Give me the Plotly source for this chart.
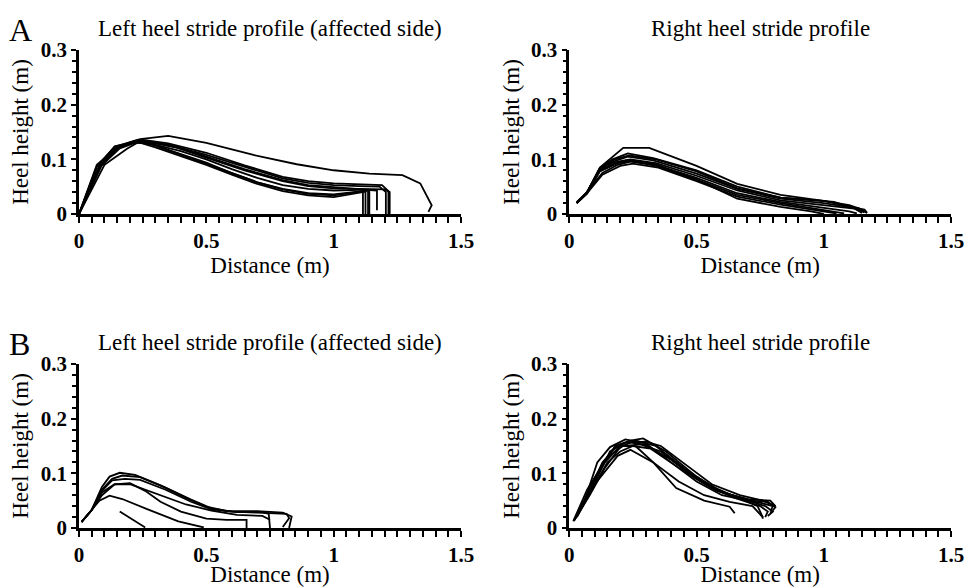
import plotly.graph_objects as go

# ---------------- data ----------------
# Panel A, left heel (affected side): one list per stride
A_LEFT_X = [
    [0, 0.07, 0.14, 0.24, 0.35, 0.5, 0.685, 0.855, 1.0, 1.14, 1.27, 1.34, 1.385, 1.372],
    [0, 0.07, 0.13, 0.2, 0.26, 0.35, 0.5, 0.65, 0.8, 0.9, 1.0, 1.1, 1.19, 1.215, 1.215],
    [0, 0.08, 0.15, 0.22, 0.27, 0.36, 0.5, 0.65, 0.8, 0.9, 1.0, 1.1, 1.18, 1.205, 1.205],
    [0, 0.09, 0.16, 0.23, 0.3, 0.4, 0.5, 0.65, 0.8, 0.9, 1.0, 1.1, 1.17, 1.17],
    [0, 0.08, 0.15, 0.2, 0.28, 0.38, 0.5, 0.65, 0.8, 0.9, 1.0, 1.1, 1.2, 1.22, 1.22],
    [0, 0.07, 0.15, 0.22, 0.3, 0.4, 0.5, 0.6, 0.7, 0.8, 0.9, 1.0, 1.08, 1.135, 1.135],
    [0, 0.08, 0.16, 0.23, 0.3, 0.4, 0.5, 0.6, 0.7, 0.8, 0.9, 1.0, 1.08, 1.125, 1.125],
    [0, 0.1, 0.19, 0.25, 0.32, 0.42, 0.5, 0.6, 0.7, 0.8, 0.9, 1.0, 1.08, 1.115, 1.115],
    [0, 0.08, 0.14, 0.21, 0.29, 0.4, 0.5, 0.6, 0.7, 0.8, 0.9, 1.0, 1.1, 1.14, 1.14],
]
A_LEFT_Y = [
    [0, 0.087, 0.123, 0.137, 0.143, 0.130, 0.108, 0.091, 0.080, 0.074, 0.071, 0.056, 0.016, 0.004],
    [0, 0.086, 0.118, 0.131, 0.135, 0.129, 0.112, 0.089, 0.068, 0.06, 0.056, 0.054, 0.053, 0.042, 0],
    [0, 0.085, 0.122, 0.132, 0.133, 0.126, 0.108, 0.086, 0.065, 0.057, 0.053, 0.051, 0.05, 0.04, 0],
    [0, 0.09, 0.124, 0.135, 0.13, 0.12, 0.105, 0.082, 0.062, 0.053, 0.049, 0.046, 0.043, 0.007],
    [0, 0.088, 0.12, 0.13, 0.131, 0.122, 0.103, 0.08, 0.06, 0.051, 0.047, 0.046, 0.045, 0.04, 0],
    [0, 0.09, 0.122, 0.134, 0.125, 0.11, 0.094, 0.075, 0.058, 0.045, 0.037, 0.034, 0.04, 0.043, 0],
    [0, 0.085, 0.12, 0.132, 0.122, 0.106, 0.09, 0.072, 0.055, 0.042, 0.034, 0.031, 0.037, 0.041, 0],
    [0, 0.09, 0.12, 0.136, 0.122, 0.105, 0.092, 0.074, 0.058, 0.046, 0.038, 0.036, 0.04, 0.042, 0],
    [0, 0.088, 0.124, 0.131, 0.128, 0.115, 0.1, 0.082, 0.066, 0.053, 0.046, 0.043, 0.044, 0.044, 0],
]

# Panel A, right heel
A_RIGHT_X = [
    [0.029, 0.068, 0.12, 0.212, 0.314, 0.5, 0.66, 0.83, 1.0, 1.1, 1.16],
    [0.029, 0.068, 0.12, 0.17, 0.23, 0.33, 0.5, 0.66, 0.83, 1.0, 1.04, 1.1, 1.16, 1.17],
    [0.029, 0.068, 0.12, 0.18, 0.23, 0.33, 0.5, 0.66, 0.83, 1.0, 1.14, 1.17],
    [0.029, 0.068, 0.12, 0.18, 0.24, 0.34, 0.5, 0.66, 0.83, 1.0, 1.12, 1.15],
    [0.03, 0.07, 0.13, 0.19, 0.24, 0.34, 0.5, 0.66, 0.83, 1.0, 1.1, 1.13],
    [0.03, 0.07, 0.13, 0.2, 0.25, 0.35, 0.5, 0.66, 0.83, 0.95, 1.02, 1.05],
    [0.03, 0.07, 0.12, 0.19, 0.23, 0.33, 0.5, 0.66, 0.83, 0.95, 1.0],
    [0.029, 0.068, 0.12, 0.18, 0.235, 0.34, 0.5, 0.66, 0.83, 1.0, 1.1, 1.14, 1.16],
    [0.029, 0.068, 0.12, 0.18, 0.24, 0.34, 0.5, 0.66, 0.83, 0.97, 1.03, 1.08],
]
A_RIGHT_Y = [
    [0.02, 0.038, 0.085, 0.121, 0.121, 0.088, 0.055, 0.035, 0.024, 0.014, 0.003],
    [0.02, 0.038, 0.084, 0.1, 0.111, 0.102, 0.08, 0.05, 0.03, 0.024, 0.022, 0.013, 0.008, 0.002],
    [0.02, 0.038, 0.082, 0.097, 0.105, 0.098, 0.074, 0.046, 0.028, 0.02, 0.01, 0.002],
    [0.021, 0.039, 0.08, 0.095, 0.1, 0.093, 0.07, 0.043, 0.025, 0.016, 0.01, 0.002],
    [0.022, 0.04, 0.075, 0.09, 0.096, 0.09, 0.066, 0.038, 0.022, 0.012, 0.005, 0.001],
    [0.021, 0.038, 0.072, 0.088, 0.092, 0.085, 0.06, 0.032, 0.017, 0.008, 0.003, 0.001],
    [0.02, 0.037, 0.078, 0.093, 0.099, 0.092, 0.063, 0.028, 0.013, 0.005, 0.0],
    [0.02, 0.038, 0.083, 0.1, 0.107, 0.1, 0.078, 0.047, 0.03, 0.024, 0.016, 0.01, 0.004],
    [0.021, 0.039, 0.079, 0.092, 0.097, 0.088, 0.063, 0.035, 0.02, 0.01, 0.005, 0.001],
]

# Panel B, left heel (affected side)
B_LEFT_X = [
    [0.01, 0.05, 0.09, 0.12, 0.16, 0.22, 0.32, 0.42, 0.5, 0.58, 0.7, 0.8, 0.835, 0.825],
    [0.01, 0.05, 0.09, 0.13, 0.17, 0.24, 0.34, 0.44, 0.52, 0.6, 0.7, 0.78, 0.815, 0.825, 0.8],
    [0.01, 0.05, 0.09, 0.13, 0.18, 0.24, 0.34, 0.44, 0.52, 0.62, 0.72, 0.745, 0.75],
    [0.01, 0.05, 0.09, 0.14, 0.2, 0.26, 0.32, 0.42, 0.52, 0.62, 0.72, 0.75],
    [0.01, 0.05, 0.09, 0.14, 0.2, 0.26, 0.32, 0.4, 0.5, 0.58, 0.658, 0.658],
    [0.01, 0.05, 0.08, 0.12, 0.17, 0.27, 0.39, 0.49],
    [0.16, 0.26],
]
B_LEFT_Y = [
    [0.011, 0.033, 0.075, 0.094, 0.101, 0.097, 0.078, 0.055, 0.039, 0.031, 0.031, 0.028, 0.021, 0.0],
    [0.011, 0.033, 0.07, 0.09, 0.096, 0.093, 0.074, 0.052, 0.036, 0.03, 0.028, 0.027, 0.026, 0.018, 0.002],
    [0.011, 0.033, 0.068, 0.087, 0.09, 0.088, 0.07, 0.048, 0.034, 0.029, 0.029, 0.026, 0.0],
    [0.011, 0.033, 0.065, 0.08, 0.08, 0.07, 0.06, 0.043, 0.032, 0.024, 0.022, 0.015],
    [0.011, 0.033, 0.06, 0.08, 0.082, 0.068, 0.048, 0.03, 0.017, 0.015, 0.015, 0.0],
    [0.011, 0.033, 0.05, 0.059, 0.053, 0.034, 0.012, 0.001],
    [0.030, 0.001],
]

# Panel B, right heel
B_RIGHT_X = [
    [0.016, 0.06, 0.11, 0.16, 0.22, 0.3, 0.4, 0.5, 0.6, 0.7, 0.78, 0.81, 0.79],
    [0.02, 0.07, 0.13, 0.19, 0.24, 0.29, 0.38, 0.5, 0.6, 0.7, 0.77, 0.8, 0.78],
    [0.025, 0.08, 0.14, 0.2, 0.26, 0.34, 0.45, 0.55, 0.65, 0.74, 0.76],
    [0.03, 0.09, 0.15, 0.2, 0.25, 0.32, 0.43, 0.55, 0.65, 0.75, 0.78, 0.77],
    [0.016, 0.07, 0.15, 0.21, 0.28, 0.36, 0.47, 0.58, 0.68, 0.76, 0.8, 0.79],
    [0.03, 0.1, 0.19, 0.24, 0.33, 0.43, 0.53, 0.63, 0.72, 0.76, 0.76],
    [0.02, 0.08, 0.14, 0.2, 0.26, 0.33, 0.42, 0.53, 0.63, 0.65],
    [0.025, 0.08, 0.16, 0.22, 0.3, 0.36, 0.46, 0.56, 0.67, 0.76, 0.81],
    [0.02, 0.07, 0.13, 0.18, 0.23, 0.3, 0.4, 0.5, 0.6, 0.7, 0.79, 0.81],
]
B_RIGHT_Y = [
    [0.012, 0.05, 0.12, 0.148, 0.162, 0.155, 0.12, 0.085, 0.06, 0.05, 0.048, 0.038, 0.027],
    [0.015, 0.06, 0.12, 0.152, 0.16, 0.164, 0.14, 0.094, 0.066, 0.05, 0.04, 0.03, 0.022],
    [0.018, 0.06, 0.11, 0.148, 0.16, 0.15, 0.11, 0.078, 0.058, 0.04, 0.02],
    [0.022, 0.07, 0.12, 0.14, 0.15, 0.145, 0.11, 0.075, 0.055, 0.04, 0.03, 0.02],
    [0.013, 0.07, 0.13, 0.15, 0.153, 0.14, 0.1, 0.068, 0.055, 0.045, 0.04, 0.03],
    [0.02, 0.08, 0.132, 0.143, 0.12, 0.085, 0.06, 0.048, 0.04, 0.02, 0.017],
    [0.015, 0.07, 0.12, 0.15, 0.15, 0.12, 0.073, 0.05, 0.039, 0.027],
    [0.02, 0.065, 0.14, 0.156, 0.158, 0.15, 0.115, 0.08, 0.06, 0.05, 0.04],
    [0.014, 0.06, 0.115, 0.15, 0.157, 0.152, 0.125, 0.09, 0.065, 0.053, 0.05, 0.04],
]

PANEL_TITLES = ["Left heel stride profile (affected side)", "Right heel stride profile"]
PANEL_LETTERS = ["A", "B"]
X_RANGE = [0, 1.5]
Y_RANGE = [0, 0.3]
X_MAJOR, X_MINOR = 0.5, 0.05
Y_MAJOR, Y_MINOR = 0.1, 0.02
X_TITLE = "Distance (m)"
Y_TITLE = "Heel height (m)"

# ---------------- figure ----------------
W, H = 966, 587
FONT = "Liberation Serif, Times New Roman, serif"


def px_x(p):
    return p / W


def px_y(p):
    return 1 - p / H


# plot-area pixel boxes: (left, right, top, bottom)
boxes = [
    (79, 461, 50, 214),
    (569.3, 951, 50, 214),
    (79, 461, 364, 528),
    (569.3, 951, 364, 528),
]
panels = [(A_LEFT_X, A_LEFT_Y), (A_RIGHT_X, A_RIGHT_Y), (B_LEFT_X, B_LEFT_Y), (B_RIGHT_X, B_RIGHT_Y)]

fig = go.Figure()
layout = dict(
    width=W, height=H, autosize=False,
    margin=dict(l=0, r=0, t=0, b=0, pad=0, autoexpand=False),
    paper_bgcolor="white", plot_bgcolor="white",
    showlegend=False,
    font=dict(family=FONT, color="black"),
    annotations=[],
)

for i, ((xs, ys), (l, r, t, b)) in enumerate(zip(panels, boxes)):
    n = i + 1
    xa = "x" if n == 1 else f"x{n}"
    ya = "y" if n == 1 else f"y{n}"
    for cx, cy in zip(xs, ys):
        fig.add_trace(go.Scatter(x=cx, y=cy, mode="lines", xaxis=xa, yaxis=ya,
                                 line=dict(color="black", width=1.8), hoverinfo="skip"))
    xkey = "xaxis" if n == 1 else f"xaxis{n}"
    ykey = "yaxis" if n == 1 else f"yaxis{n}"
    layout[xkey] = dict(
        domain=[px_x(l), px_x(r)], anchor=ya, range=X_RANGE, automargin=False,
        tickmode="linear", tick0=0, dtick=X_MAJOR,
        showline=True, linecolor="black", linewidth=2.5,
        ticks="outside", ticklen=6, tickwidth=2, tickcolor="black",
        minor=dict(tickmode="linear", tick0=0, dtick=X_MINOR, ticks="outside", ticklen=6,
                   tickwidth=2, tickcolor="black", showgrid=False),
        showgrid=False, zeroline=False,
        tickfont=dict(family=FONT, size=21, weight="bold"),
        title=dict(text=X_TITLE, font=dict(family=FONT, size=23), standoff=0),
    )
    layout[ykey] = dict(
        domain=[px_y(b), px_y(t)], anchor=xa, range=Y_RANGE, automargin=False,
        tickmode="linear", tick0=0, dtick=Y_MAJOR,
        showline=True, linecolor="black", linewidth=2.5,
        ticks="outside", ticklen=5, tickwidth=2, tickcolor="black",
        minor=dict(tickmode="linear", tick0=0, dtick=Y_MINOR, ticks="outside", ticklen=4,
                   tickwidth=2, tickcolor="black", showgrid=False),
        showgrid=False, zeroline=False,
        tickfont=dict(family=FONT, size=21, weight="bold"),
        title=dict(text=Y_TITLE, font=dict(family=FONT, size=23), standoff=6),
    )
    layout["annotations"].append(dict(
        text=PANEL_TITLES[i % 2], xref="paper", yref="paper",
        x=px_x((l + r) / 2), y=px_y(t - 22), xanchor="center", yanchor="middle",
        showarrow=False, font=dict(family=FONT, size=23),
    ))

for j, letter in enumerate(PANEL_LETTERS):
    top = boxes[2 * j][2]
    layout["annotations"].append(dict(
        text=letter, xref="paper", yref="paper",
        x=px_x(7), y=px_y(top - 20), xanchor="left", yanchor="middle",
        showarrow=False, font=dict(family=FONT, size=32),
    ))

fig.update_layout(**layout)
fig.write_html("out.html")
